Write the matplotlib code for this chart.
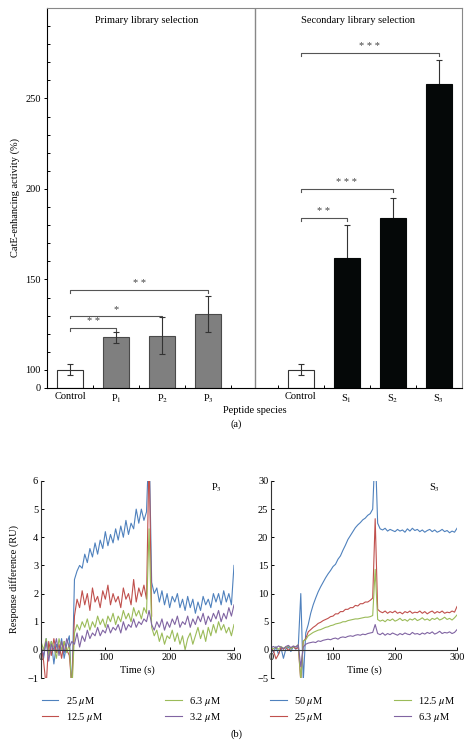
import numpy as np
import matplotlib
matplotlib.use('Agg')
import matplotlib.pyplot as plt

plt.rcParams['font.family'] = ['Liberation Serif', 'DejaVu Serif']
plt.rcParams['mathtext.fontset'] = 'stix'
plt.rcParams['font.size'] = 7.5

# ---------------- panel (a) ----------------
bar_labels = ['Control', 'P$_1$', 'P$_2$', 'P$_3$', 'Control', 'S$_1$', 'S$_2$', 'S$_3$']
activity = [100, 118, 119, 131, 100, 162, 184, 258]
activity_err = [3, 3, 10, 10, 3, 18, 11, 13]
bar_group = ['ctrl', 'P', 'P', 'P', 'ctrl', 'S', 'S', 'S']
# (from bar, to bar, stars, bracket level in %)
sig_from = [0, 0, 0, 4, 4, 4]
sig_to = [1, 2, 3, 5, 6, 7]
sig_stars = ['**', '*', '**', '**', '***', '***']
sig_level = [123, 130, 144, 184, 200, 275]

# ---------------- panel (b) ----------------
time_s = np.arange(0, 301, 4)

p3_25 = [0.1, -0.3, 0.4, -0.2, 0.3, -0.5, 0.2, -0.1, 0.4, -0.3, 0.2, 0.5,
         -1.5, 2.5, 2.8, 3.0, 2.9, 3.4, 3.1, 3.6, 3.3, 3.8, 3.4, 3.9,
         3.6, 4.2, 3.7, 4.1, 3.8, 4.3, 3.9, 4.4, 4.0, 4.6, 4.1, 4.5,
         4.3, 5.0, 4.5, 5.0, 4.6, 4.9, 7.5, 2.4, 2.0, 2.2, 1.7, 2.1,
         1.6, 2.0, 1.5, 1.9, 1.7, 2.0, 1.5, 1.8, 1.4, 1.9, 1.5, 1.8,
         1.3, 1.7, 1.4, 1.9, 1.6, 1.8, 1.5, 2.0, 1.7, 2.0, 1.6, 2.1,
         1.7, 2.0, 1.6, 3.0]
p3_12 = [0.2, -0.4, -1.3, 0.3, -0.2, 0.4, -0.1, 0.2, -0.3, 0.3, 0.0, -0.2,
         -1.3, 1.2, 1.8, 1.5, 2.1, 1.6, 2.0, 1.4, 2.2, 1.7, 1.9, 1.5,
         2.1, 1.8, 2.3, 1.6, 2.0, 1.7, 1.9, 1.5, 2.2, 1.8, 2.0, 1.6,
         2.5, 1.7, 2.2, 1.9, 2.3, 1.8, 7.0, 1.2]
p3_6 = [0.3, 0.0, 0.4, -0.2, 0.3, 0.1, -0.3, 0.4, 0.0, 0.3, -0.1, 0.2,
        -1.5, 0.6, 0.9, 0.7, 1.0, 0.8, 1.1, 0.7, 1.0, 0.8, 1.2, 0.9,
        1.1, 0.8, 1.2, 1.0, 1.3, 0.9, 1.2, 1.0, 1.4, 1.1, 1.3, 1.0,
        1.5, 1.2, 1.4, 1.1, 1.5, 1.3, 4.3, 0.8, 0.5, 0.7, 0.3, 0.6,
        0.2, 0.5, 0.4, 0.7, 0.3, 0.6, 0.2, 0.5, 0.0, 0.4, 0.6, 0.2,
        0.5, 0.8, 0.4, 0.7, 0.3, 0.8, 0.5, 0.9, 0.6, 1.0, 0.7, 0.9,
        0.6, 0.8, 0.5, 0.9]
p3_3 = [0.1, -0.2, 0.3, -0.4, 0.2, 0.0, 0.4, -0.2, 0.3, -0.1, 0.4, 0.1,
        0.3, 0.2, 0.6, 0.1, 0.5, 0.3, 0.7, 0.4, 0.6, 0.5, 0.8, 0.5,
        0.7, 0.6, 0.9, 0.6, 0.8, 0.7, 0.9, 0.6, 1.0, 0.7, 0.9, 0.8,
        1.1, 0.8, 1.0, 0.9, 1.1, 1.0, 1.4, 0.9, 0.7, 1.0, 0.8, 1.1,
        0.7, 1.0, 0.8, 1.1, 0.9, 1.2, 0.8, 1.0, 0.9, 1.2, 0.8, 1.1,
        0.9, 1.2, 1.0, 1.3, 0.9, 1.2, 1.0, 1.3, 1.1, 1.4, 1.0, 1.3,
        1.1, 1.5, 1.2, 1.6]

s3_50 = [0.3, -0.5, 0.6, -0.8, 0.4, -1.5, 0.2, 0.5, -0.3, 0.6, 0.1, 0.7,
         10.0, -5.5, 3.0, 4.5, 6.5, 8.0, 9.2, 10.3, 11.2, 12.0, 12.8, 13.5,
         14.1, 14.8, 15.2, 16.1, 16.7, 17.7, 18.6, 19.6, 20.3, 21.0, 21.7, 22.2,
         22.6, 23.1, 23.4, 23.9, 24.2, 25.0, 36.0, 22.5, 21.5, 21.3, 21.6, 21.1,
         21.4, 21.2, 21.0, 21.4, 21.1, 21.3, 20.9, 21.5, 21.1, 21.6, 21.2, 21.4,
         21.0, 21.3, 20.9, 21.2, 21.4, 21.0, 21.3, 20.9, 21.1, 21.4, 21.0, 21.2,
         20.8, 21.1, 20.9, 21.6]
s3_25 = [0.3, -0.2, -1.6, -0.8, 0.4, 0.1, 0.5, -0.1, 0.3, 0.6, 0.2, 0.4,
         -5.5, 1.5, 2.0, 3.2, 3.6, 4.0, 4.3, 4.7, 4.9, 5.2, 5.4, 5.6,
         5.9, 6.0, 6.4, 6.4, 6.8, 6.8, 7.2, 7.2, 7.5, 7.5, 7.9, 7.8,
         8.2, 8.2, 8.5, 8.5, 8.8, 9.2, 23.3, 7.2, 6.8, 6.6, 6.9, 6.5,
         6.8, 6.6, 6.9, 6.5, 6.7, 6.4, 6.8, 6.6, 6.9, 6.5, 6.7, 6.6,
         6.9, 6.5, 6.8, 6.4, 6.7, 6.9, 6.5, 6.8, 6.6, 6.9, 6.5, 6.7,
         6.6, 6.9, 6.7, 7.7]
s3_12 = [0.4, 0.2, 0.5, 0.1, 0.6, 0.3, 0.4, 0.7, 0.2, 0.5, 0.6, 0.9,
         -5.5, 1.6, 1.8, 2.5, 2.8, 3.1, 3.3, 3.5, 3.6, 3.8, 4.0, 4.1,
         4.3, 4.4, 4.6, 4.7, 4.8, 5.0, 5.0, 5.2, 5.3, 5.4, 5.5, 5.5,
         5.6, 5.7, 5.8, 5.8, 5.9, 6.1, 14.3, 5.4, 5.1, 5.3, 5.0, 5.4,
         5.2, 5.5, 5.1, 5.3, 5.6, 5.2, 5.4, 5.1, 5.5, 5.3, 5.6, 5.2,
         5.4, 5.7, 5.3, 5.5, 5.2, 5.6, 5.4, 5.7, 5.3, 5.5, 5.8, 5.4,
         5.6, 5.3, 5.7, 6.2]
s3_6 = [0.4, 0.6, 0.3, 0.7, 0.5, 0.2, 0.6, 0.8, 0.4, 0.7, 0.5, 0.9,
        -3.0, 0.5, 1.0, 1.2, 1.3, 1.4, 1.3, 1.6, 1.5, 1.7, 1.8, 1.9,
        1.8, 2.0, 2.1, 1.9, 2.2, 2.3, 2.2, 2.4, 2.5, 2.4, 2.6, 2.7,
        2.6, 2.8, 2.7, 2.9, 3.0, 3.1, 4.5, 2.9, 2.7, 3.0, 2.6, 2.9,
        2.7, 3.0, 2.8, 2.6, 2.9, 2.7, 3.0, 2.8, 2.7, 3.1, 2.8, 2.9,
        2.7, 3.0, 2.8, 3.1, 2.9, 3.2, 2.8, 3.0, 3.3, 2.9, 3.1, 3.0,
        3.2, 2.9, 3.1, 3.6]

p3_series = [p3_25, p3_12, p3_6, p3_3]
p3_labels = ['25 $\\mu$M', '12.5 $\\mu$M', '6.3 $\\mu$M', '3.2 $\\mu$M']
s3_series = [s3_50, s3_25, s3_12, s3_6]
s3_labels = ['50 $\\mu$M', '25 $\\mu$M', '12.5 $\\mu$M', '6.3 $\\mu$M']
line_colors = ['#4f81bd', '#c0504d', '#9bbb59', '#8064a2']


def to_disp(v):
    # broken axis: 0-100 squeezed into 10 units, linear above 100
    v = np.asarray(v, dtype=float)
    return np.where(v >= 100, v - 90, v * 0.1)


fig = plt.figure(figsize=(4.73, 7.45), dpi=100)

# ---- top bar chart ----
ax = fig.add_axes([0.0994, 0.4792, 0.8774, 0.5101])
idx = np.arange(len(activity))
xpos = idx + (idx >= 4)
face = {'ctrl': 'white', 'P': '#7f7f7f', 'S': '#050808'}
edge = {'ctrl': '#333333', 'P': '#4a4a4a', 'S': '#050808'}
for i in idx:
    ax.bar(xpos[i], to_disp(activity[i]), width=0.56, color=face[bar_group[i]],
           edgecolor=edge[bar_group[i]], linewidth=0.8, zorder=2)
    # lower half of the error bar disappears inside the black bars
    ez = 1 if bar_group[i] == 'S' else 3
    ax.errorbar(xpos[i], to_disp(activity[i]), yerr=activity_err[i], fmt='none',
                ecolor='#333333', elinewidth=0.8, capsize=2.2, capthick=0.8, zorder=ez)

for a, b, st, lev in zip(sig_from, sig_to, sig_stars, sig_level):
    x0, x1 = xpos[a], xpos[b]
    y = float(to_disp(lev))
    ax.plot([x0, x0, x1, x1], [y - 1.5, y, y, y - 1.5], color='#555555', lw=0.8)
    ax.text((x0 + x1) / 2, y + 1.0, ' '.join(st), ha='center', va='bottom',
            fontsize=7.5, color='#444444')

ax.axvline(4, color='#888888', lw=1.0)
ax.set_xlim(-0.5, 8.5)
ax.set_ylim(0, 210)
ax.set_yticks(to_disp([0, 100, 150, 200, 250]))
ax.set_yticklabels(['0', '100', '150', '200', '250'])
ax.set_yticks(to_disp(np.arange(110, 300, 10)), minor=True)
ax.tick_params(axis='y', which='major', direction='out', length=2.5, width=0.7, pad=2)
ax.tick_params(axis='y', which='minor', direction='in', length=2.5, width=0.7)
ax.set_xticks(xpos)
ax.set_xticklabels(bar_labels)
ax.set_xticks(np.arange(0.5, 8, 1.0), minor=True)
ax.tick_params(axis='x', which='major', length=0, pad=3)
ax.tick_params(axis='x', which='minor', direction='in', length=2.5, width=0.7)
for s in ['top', 'right']:
    ax.spines[s].set_color('#888888')
for s in ax.spines.values():
    s.set_linewidth(0.8)
ax.set_ylabel('CatE-enhancing activity (%)', labelpad=4)
ax.set_xlabel('Peptide species', labelpad=1)
ax.text(0.241, 0.968, 'Primary library selection', transform=ax.transAxes,
        ha='center', va='center', fontsize=7.5)
ax.text(0.749, 0.968, 'Secondary library selection', transform=ax.transAxes,
        ha='center', va='center', fontsize=7.5)
fig.text(0.499, 0.431, '(a)', ha='center', va='center', fontsize=7.5)

# ---- bottom sensorgrams ----
ax1 = fig.add_axes([0.0867, 0.0899, 0.408, 0.2645])
ax2 = fig.add_axes([0.573, 0.0899, 0.3932, 0.2645])

for axb, series, labs, ylim, yt, tag, tx in [
        (ax1, p3_series, p3_labels, (-1, 6), np.arange(-1, 7, 1), 'P$_3$', 0.91),
        (ax2, s3_series, s3_labels, (-5, 30), np.arange(-5, 31, 5), 'S$_3$', 0.88)]:
    for vals, col, lab in zip(series, line_colors, labs):
        axb.plot(time_s[:len(vals)], vals, color=col, lw=0.8, label=lab)
    axb.set_xlim(0, 300)
    axb.set_ylim(*ylim)
    axb.set_yticks(yt)
    axb.set_yticklabels([str(v).replace('-', '\u2212') for v in yt])
    axb.set_xticks([0, 100, 200, 300])
    axb.spines['bottom'].set_position(('data', 0))
    axb.spines['top'].set_visible(False)
    axb.spines['right'].set_visible(False)
    for s in ['left', 'bottom']:
        axb.spines[s].set_linewidth(0.8)
        axb.spines[s].set_color('#333333')
    axb.tick_params(direction='in', length=2.5, width=0.7, pad=2)
    axb.set_xlabel('Time (s)', labelpad=3)
    axb.text(tx, 0.965, tag, transform=axb.transAxes, ha='center', va='center',
             fontsize=7.5)

ax1.set_ylabel('Response difference (RU)', labelpad=6)

ax1.legend(handles=ax1.get_lines(), loc='upper left', bbox_to_anchor=(0.088, 0.067),
           bbox_transform=fig.transFigure, ncol=2, frameon=False, borderpad=0,
           borderaxespad=0, handlelength=1.6, handletextpad=0.7,
           columnspacing=6.0, labelspacing=0.25, fontsize=7.5)
ax2.legend(handles=ax2.get_lines(), loc='upper left', bbox_to_anchor=(0.571, 0.067),
           bbox_transform=fig.transFigure, ncol=2, frameon=False, borderpad=0,
           borderaxespad=0, handlelength=1.6, handletextpad=0.7,
           columnspacing=6.8, labelspacing=0.25, fontsize=7.5)
fig.text(0.499, 0.0148, '(b)', ha='center', va='center', fontsize=7.5)

fig.savefig('out.png', dpi=100)
